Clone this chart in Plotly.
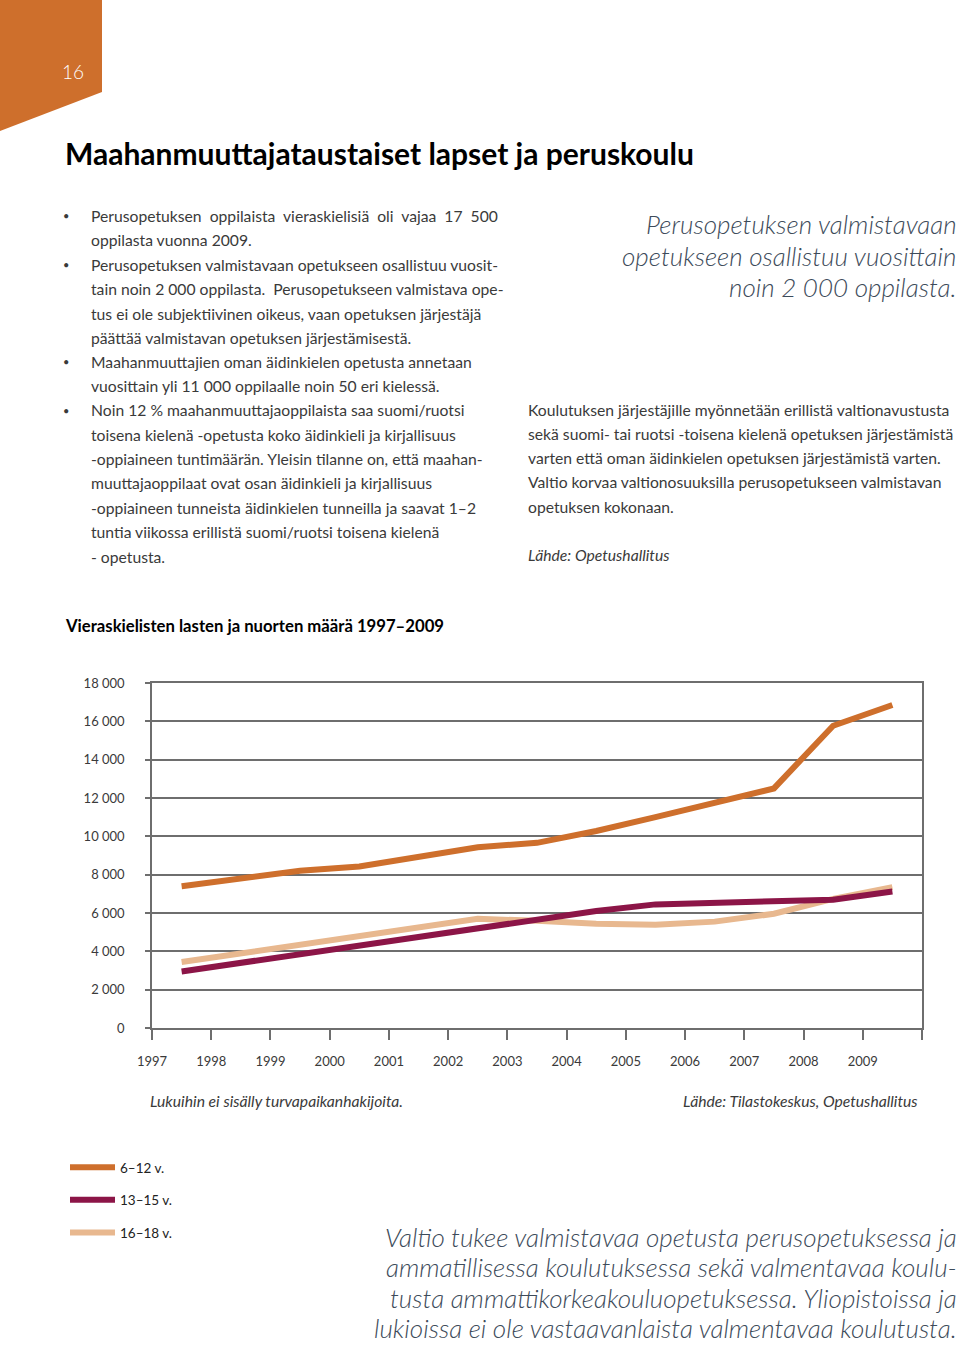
import plotly.graph_objects as go

W, H = 960, 1346

years = ["1997", "1998", "1999", "2000", "2001", "2002", "2003",
         "2004", "2005", "2006", "2007", "2008", "2009"]
series_names = ["6–12 v.", "13–15 v.", "16–18 v."]
age_6_12 = [7400, 7800, 8200, 8430, 8950, 9430, 9660, 10280, 11000, 11710, 12500, 15770, 16850]
age_13_15 = [2950, 3400, 3870, 4330, 4790, 5250, 5680, 6100, 6450, 6550, 6620, 6690, 7120]
age_16_18 = [3440, 3890, 4340, 4790, 5250, 5700, 5590, 5440, 5390, 5550, 5960, 6740, 7350]
y_ticks = [0, 2000, 4000, 6000, 8000, 10000, 12000, 14000, 16000, 18000]
y_tick_text = ["0", "2 000", "4 000", "6 000", "8 000", "10 000", "12 000", "14 000", "16 000", "18 000"]

ORANGE = "#CE6F2C"
PURPLE = "#8C1547"
LIGHT = "#E8B88F"
GRID = "#6E6E6E"
TXT = "#3a3a3a"
SLATE = "#3d4b5a"
FONT = "Lato"


def px(x):
    return x / W


def py(y):
    return 1 - y / H


x_pos = [i + 0.5 for i in range(len(years))]

fig = go.Figure()
for name, vals, col, grp in [(series_names[2], age_16_18, LIGHT, "c"),
                             (series_names[1], age_13_15, PURPLE, "b"),
                             (series_names[0], age_6_12, ORANGE, "a")]:
    fig.add_trace(go.Scatter(x=x_pos, y=vals, mode="lines", name=name,
                             legendgroup=grp, legendrank={"a": 1, "b": 2, "c": 3}[grp],
                             line=dict(color=col, width=6), hoverinfo="skip"))

annotations = []


def text(x, y, s, size=15, color=TXT, anchor="left", weight=400, style="normal", family=FONT):
    annotations.append(dict(x=px(x), y=py(y), xref="paper", yref="paper", text=s,
                            showarrow=False, xanchor=anchor, yanchor="middle",
                            font=dict(family=family, size=size, color=color,
                                      weight=weight, style=style)))


BODY = 15.7
QUOTE = 26

# page number
text(73, 71, "16", size=19, color="white", anchor="center", weight=300)
# title
text(63, 153, "Maahanmuuttajataustaiset lapset ja peruskoulu", size=30, color="#000000", weight=700)

left_lines = [
    (216, True, "Perusopetuksen  oppilaista  vieraskielisiä  oli  vajaa  17  500"),
    (240, False, "oppilasta vuonna 2009."),
    (265, True, "Perusopetuksen valmistavaan opetukseen osallistuu vuosit-"),
    (289, False, "tain noin 2 000 oppilasta.  Perusopetukseen valmistava ope-"),
    (314, False, "tus ei ole subjektiivinen oikeus, vaan opetuksen järjestäjä"),
    (338, False, "päättää valmistavan opetuksen järjestämisestä."),
    (362, True, "Maahanmuuttajien oman äidinkielen opetusta annetaan"),
    (386, False, "vuosittain yli 11 000 oppilaalle noin 50 eri kielessä."),
    (410, True, "Noin 12 % maahanmuuttajaoppilaista saa suomi/ruotsi"),
    (435, False, "toisena kielenä -opetusta koko äidinkieli ja kirjallisuus"),
    (459, False, "-oppiaineen tuntimäärän. Yleisin tilanne on, että maahan-"),
    (483, False, "muuttajaoppilaat ovat osan äidinkieli ja kirjallisuus"),
    (508, False, "-oppiaineen tunneista äidinkielen tunneilla ja saavat 1–2"),
    (532, False, "tuntia viikossa erillistä suomi/ruotsi toisena kielenä"),
    (557, False, "- opetusta."),
]
for y, bullet, s in left_lines:
    if bullet:
        text(61, y, "•", size=11)
    text(89, y, s, size=BODY)

quote1 = ["Perusopetuksen valmistavaan", "opetukseen osallistuu vuosittain", "noin 2 000 oppilasta."]
for i, s in enumerate(quote1):
    text(959, 224 + i * 31.5, s, size=QUOTE, color=SLATE, anchor="right", weight=300, style="italic")

right_lines = [
    (410, "Koulutuksen järjestäjille myönnetään erillistä valtionavustusta"),
    (434, "sekä suomi- tai ruotsi -toisena kielenä opetuksen järjestämistä"),
    (458, "varten että oman äidinkielen opetuksen järjestämistä varten."),
    (482, "Valtio korvaa valtionosuuksilla perusopetukseen valmistavan"),
    (507, "opetuksen kokonaan."),
]
for y, s in right_lines:
    text(526, y, s, size=BODY)
text(526, 555, "Lähde: Opetushallitus", size=BODY, style="italic")

# chart title
text(63, 626, "Vieraskielisten lasten ja nuorten määrä 1997–2009", size=16.7, color="#000000", weight=700)

# notes
text(148, 1101, "Lukuihin ei sisälly turvapaikanhakijoita.", size=BODY, style="italic")
text(920, 1101, "Lähde: Tilastokeskus, Opetushallitus", size=BODY, anchor="right", style="italic")

quote2 = ["Valtio tukee valmistavaa opetusta perusopetuksessa ja",
          "ammatillisessa koulutuksessa sekä valmentavaa koulu-",
          "tusta ammattikorkeakouluopetuksessa. Yliopistoissa ja",
          "lukioissa ei ole vastaavanlaista valmentavaa koulutusta."]
for i, s in enumerate(quote2):
    text(959, 1237 + i * 30.3, s, size=QUOTE, color=SLATE, anchor="right", weight=300, style="italic")

# corner shape
shapes = [dict(type="path", xref="paper", yref="paper",
               path=f"M 0 1 L {px(102)} 1 L {px(102)} {py(92)} L 0 {py(131)} Z",
               fillcolor=ORANGE, line=dict(width=0), layer="below")]

plot_left, plot_right = 152, 922
plot_top, plot_bottom = 683, 1028

fig.update_layout(
    width=W, height=H,
    margin=dict(l=0, r=0, t=0, b=0, autoexpand=False),
    paper_bgcolor="white", plot_bgcolor="white",
    annotations=annotations, shapes=shapes,
    showlegend=True,
    legend=dict(x=px(65), y=py(1152), xanchor="left", yanchor="top",
                font=dict(family=FONT, size=13.5, color="#222"),
                tracegroupgap=12, itemwidth=45, bgcolor="rgba(0,0,0,0)",
                traceorder="grouped"),
    xaxis=dict(domain=[px(plot_left), px(plot_right)], range=[0, 13],
               tickmode="array", tickvals=list(range(14)), ticktext=years + [""],
               ticks="outside", ticklen=10, tickwidth=1.5, tickcolor=GRID,
               showline=True, linecolor=GRID, linewidth=1.5, mirror=True,
               showgrid=False, zeroline=False, ticklabelstandoff=11, automargin=False,
               tickfont=dict(family=FONT, size=13, color=TXT), fixedrange=True),
    yaxis=dict(domain=[py(plot_bottom), py(plot_top)], range=[0, 18000],
               tickmode="array", tickvals=y_ticks, ticktext=y_tick_text,
               ticks="outside", ticklen=5, tickwidth=1.5, tickcolor=GRID,
               showline=True, linecolor=GRID, linewidth=1.5, mirror=True,
               showgrid=True, gridcolor=GRID, gridwidth=1.5, zeroline=False,
               ticklabelstandoff=18, automargin=False,
               tickfont=dict(family=FONT, size=13, color=TXT), fixedrange=True),
)

fig.write_html("out.html", config={"displayModeBar": False},
               post_script="document.body.style.margin='0';document.body.style.overflow='hidden';")
